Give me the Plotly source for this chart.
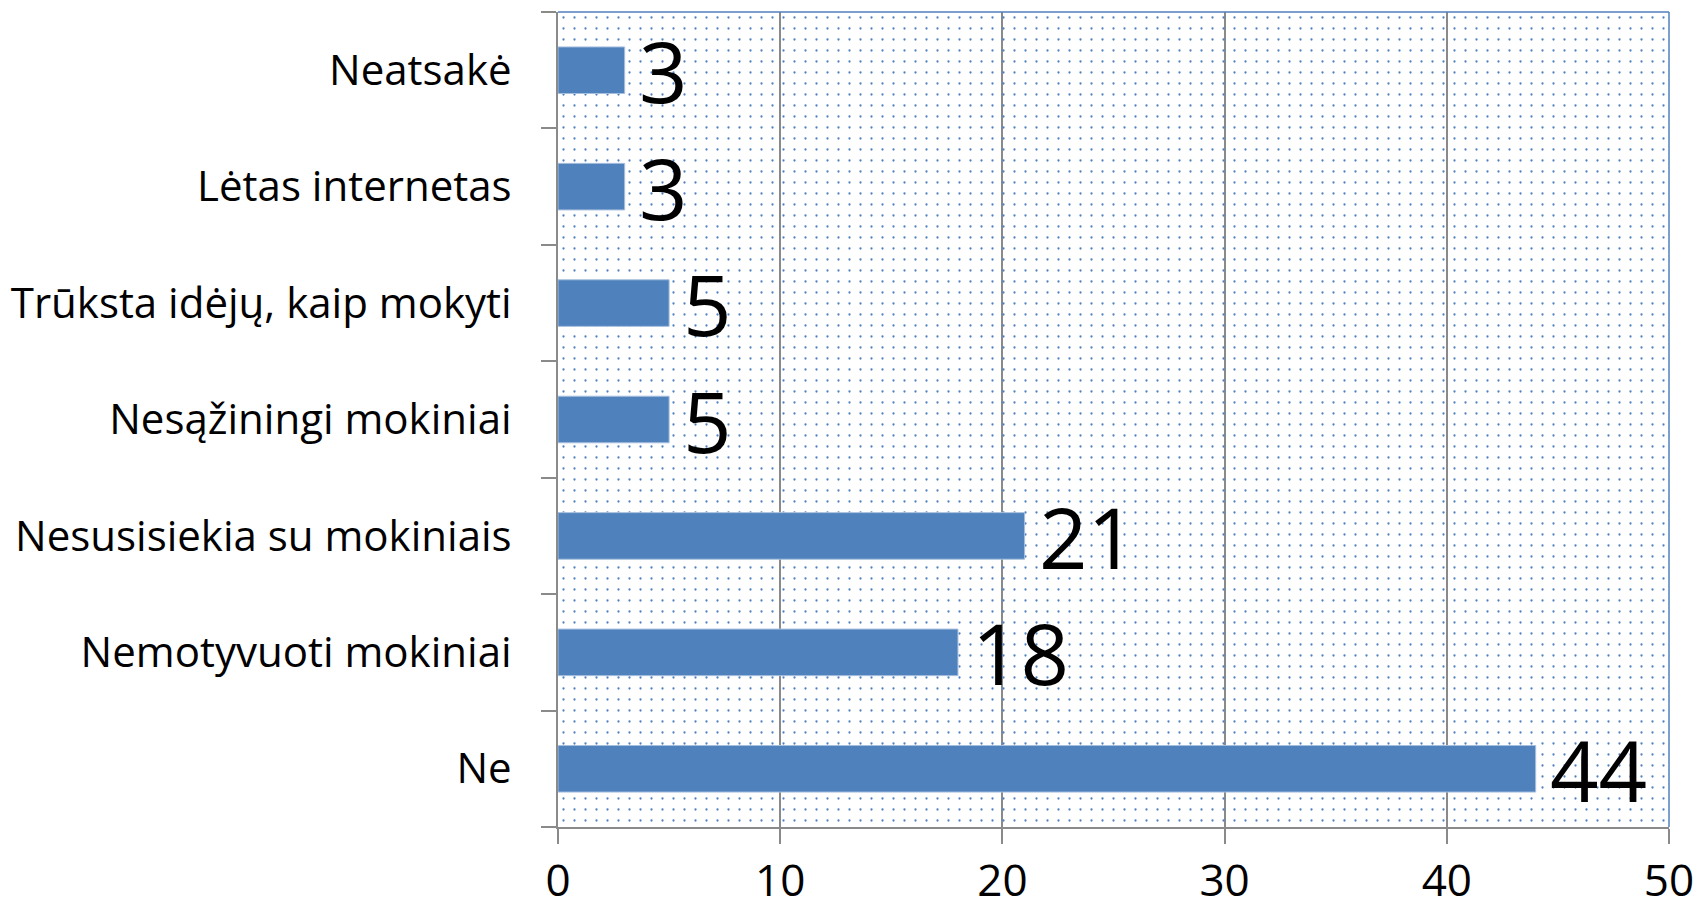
import plotly.graph_objects as go

categories = ["Ne", "Nemotyvuoti mokiniai", "Nesusisiekia su mokiniais",
              "Nesąžiningi mokiniai", "Trūksta idėjų, kaip mokyti",
              "Lėtas internetas", "Neatsakė"]
values = [44, 18, 21, 5, 5, 3, 3]
x_ticks = [0, 10, 20, 30, 40, 50]
X_MAX = 50

BLUE = "#4F81BD"
GRAY = "#8A8A8A"
FONT = "Open Sans"

fig = go.Figure()

# dotted plot-area background (pattern fill)
fig.add_trace(go.Bar(
    y=[categories[3]], x=[X_MAX], orientation="h", width=len(categories),
    marker=dict(color="rgba(0,0,0,0)", line=dict(width=0),
                pattern=dict(shape=".", fgcolor=BLUE, bgcolor="rgba(0,0,0,0)",
                             size=11, solidity=0.033, fillmode="replace")),
    hoverinfo="skip", showlegend=False,
))

fig.add_trace(go.Bar(
    y=categories, x=values, orientation="h", width=0.4,
    marker=dict(color=BLUE, line=dict(color="#A7BFDE", width=1)),
    hoverinfo="x+y", showlegend=False,
))

for c, v in zip(categories, values):
    fig.add_annotation(x=v, y=c, text=str(v), showarrow=False,
                       xanchor="left", yanchor="middle", xshift=12, yshift=0,
                       font=dict(family=FONT, size=85, color="black"))

fig.update_layout(
    width=1698, height=907,
    margin=dict(l=558, r=29, t=12, b=80),
    paper_bgcolor="white", plot_bgcolor="white",
    barmode="overlay",
    font=dict(family=FONT, color="black"),
    xaxis=dict(range=[0, X_MAX], tickvals=x_ticks, showgrid=True,
               gridcolor=GRAY, gridwidth=2, zeroline=False, automargin=False,
               showline=True, linecolor=GRAY, linewidth=2,
               ticks="outside", ticklen=15, tickcolor=GRAY, tickwidth=2,
               tickfont=dict(size=44, family=FONT), ticklabelstandoff=-1),
    yaxis=dict(type="category", categoryorder="array", categoryarray=categories,
               range=[-0.5, len(categories) - 0.5], automargin=False,
               showgrid=False, showline=True, linecolor=GRAY, linewidth=2,
               ticks="outside", ticklen=15, tickcolor=GRAY, tickwidth=2,
               tickson="boundaries", tickfont=dict(size=42, family=FONT),
               ticklabelstandoff=36),
    shapes=[
        dict(type="line", xref="paper", yref="paper", x0=0, x1=1, y0=1, y1=1,
             line=dict(color=BLUE, width=1.5)),
        dict(type="line", xref="paper", yref="paper", x0=1, x1=1, y0=0, y1=1,
             line=dict(color=BLUE, width=1.5)),
    ],
)

fig.write_html("out.html", config={"displayModeBar": False},
               post_script="document.body.style.margin='0';"
                           "document.body.style.overflow='hidden';")
